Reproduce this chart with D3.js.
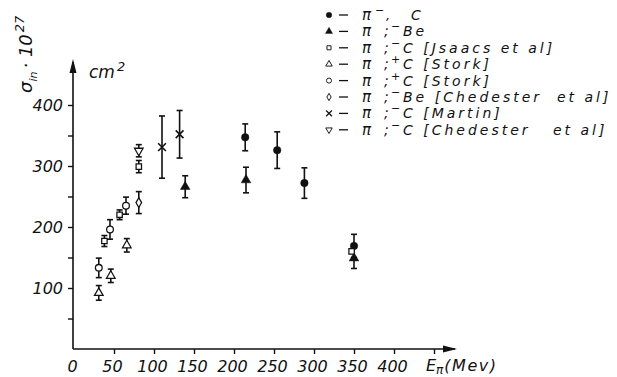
<!DOCTYPE html>
<html>
<head>
<meta charset="utf-8">
<script src="https://cdn.jsdelivr.net/npm/d3@7"></script>
<style>
  body { margin: 0; background: #fff; }
  text { font-family: "DejaVu Sans", sans-serif; font-style: italic; fill: #111; }
</style>
</head>
<body>
<svg id="chart" width="617" height="377"></svg>
<script>
// Axis ticks (pion kinetic energy in MeV, inelastic cross section in units of 1e-27 cm^2)
const xTicks = [0, 50, 100, 150, 200, 250, 300, 350, 400, 450];
const xTickLabels = ["0", "50", "100", "150", "200", "250", "300", "350", "400", ""];
const yTicks = [50, 100, 150, 200, 250, 300, 350, 400];
const yTickLabels = ["", "100", "", "200", "", "300", "", "400"];

// π⁻ on C (this work)
const piMinusC_E = [214, 254, 288, 350];
const piMinusC_sigma = [347, 326, 272, 169];
const piMinusC_err = [22, 30, 25, 19];

// π⁻ on Be (this work)
const piMinusBe_E = [139, 215, 350];
const piMinusBe_sigma = [266, 277, 149];
const piMinusBe_err = [18, 21, 17];

// π⁻ on C, Isaacs et al
const isaacs_E = [38, 57, 81, 347];
const isaacs_sigma = [177, 220, 299, 160];
const isaacs_err = [9, 8, 10, 0];

// π⁺ on C, Stork (triangles)
const storkTri_E = [31, 46, 66];
const storkTri_sigma = [92, 120, 170];
const storkTri_err = [12, 11, 11];

// π⁺ on C, Stork (circles)
const storkCirc_E = [31, 45, 65];
const storkCirc_sigma = [133, 196, 235];
const storkCirc_err = [16, 16, 14];

// π⁻ on Be, Chedester et al
const chedBe_E = [81];
const chedBe_sigma = [240];
const chedBe_err = [18];

// π⁻ on C, Martin
const martin_E = [110, 132];
const martin_sigma = [331, 352];
const martin_err = [51, 39];

// π⁻ on C, Chedester et al
const chedC_E = [81];
const chedC_sigma = [325];
const chedC_err = [10];

// Legend entries: charge sign, separator, remainder of the text
const legendSigns = ["−", "−", "−", "+", "+", "−", "−", "−"];
const legendSeps = [",", ";", ";", ";", ";", ";", ";", ";"];
const legendRest = ["C", "Be", "C [Jsaacs et al]", "C [Stork]", "C [Stork]",
                    "Be [Chedester\u00a0 et al]", "C [Martin]", "C [Chedester\u00a0\u00a0 et al]"];

const series = [
  { E: piMinusC_E, s: piMinusC_sigma, err: piMinusC_err, shape: "circle", filled: true },
  { E: piMinusBe_E, s: piMinusBe_sigma, err: piMinusBe_err, shape: "triangle", filled: true },
  { E: isaacs_E, s: isaacs_sigma, err: isaacs_err, shape: "square", filled: false },
  { E: storkTri_E, s: storkTri_sigma, err: storkTri_err, shape: "triangle", filled: false },
  { E: storkCirc_E, s: storkCirc_sigma, err: storkCirc_err, shape: "circle", filled: false },
  { E: chedBe_E, s: chedBe_sigma, err: chedBe_err, shape: "diamond", filled: false },
  { E: martin_E, s: martin_sigma, err: martin_err, shape: "times", filled: false },
  { E: chedC_E, s: chedC_sigma, err: chedC_err, shape: "invtriangle", filled: false }
];

const svg = d3.select("#chart");
const x = d3.scaleLinear().domain([0, 450]).range([74, 434]);
const y = d3.scaleLinear().domain([0, 400]).range([349, 105]);

// X axis
const xAxis = svg.append("g")
  .attr("transform", `translate(0,${y(0)})`)
  .call(d3.axisBottom(x).tickValues(xTicks).tickSize(5).tickPadding(7)
    .tickFormat((d, i) => xTickLabels[i]));
xAxis.select(".domain").remove();
xAxis.selectAll(".tick line").attr("stroke", "#111").attr("stroke-width", 1.4)
  .filter(d => d === 0).remove();
xAxis.selectAll(".tick text").attr("font-size", 16).attr("font-family", "DejaVu Sans")
  .attr("font-style", "italic").attr("fill", "#111").attr("dx", -2);

// Y axis
const yAxis = svg.append("g")
  .attr("transform", `translate(${x(0) - 1},0)`)
  .call(d3.axisLeft(y).tickValues(yTicks).tickSize(5).tickPadding(5)
    .tickFormat((d, i) => yTickLabels[i]));
yAxis.select(".domain").remove();
yAxis.selectAll(".tick line").attr("stroke", "#111").attr("stroke-width", 1.4);
yAxis.selectAll(".tick text").attr("font-size", 16).attr("font-family", "DejaVu Sans")
  .attr("font-style", "italic").attr("fill", "#111").attr("dy", "0.36em");

// Axis lines with arrow heads
svg.append("line").attr("x1", x(0) - 1).attr("y1", y(0)).attr("x2", 455).attr("y2", y(0))
  .attr("stroke", "#111").attr("stroke-width", 1.6);
svg.append("path").attr("d", "M457,349 L443,345.5 L443,352.5 Z").attr("fill", "#111");
svg.append("line").attr("x1", x(0) - 1).attr("y1", y(0)).attr("x2", x(0) - 1).attr("y2", 62)
  .attr("stroke", "#111").attr("stroke-width", 1.6);
svg.append("path").attr("d", `M${x(0) - 1},59 L${x(0) - 4.5},73 L${x(0) + 2.5},73 Z`).attr("fill", "#111");

// Unit label on the y axis
const cm = svg.append("text").attr("x", 89).attr("y", 78).attr("font-size", 17).attr("font-style", "normal");
cm.append("tspan").text("cm");
cm.append("tspan").attr("dy", -7).attr("dx", 2).attr("font-size", 13).text("2");

// Rotated y-axis title: σ_in · 10^27
const yt = svg.append("text").attr("transform", "translate(32,93) rotate(-90)").attr("font-size", 18);
yt.append("tspan").text("σ");
yt.append("tspan").attr("dy", 5).attr("font-size", 11).text("in");
yt.append("tspan").attr("dy", -5).attr("dx", 3).text("· 10");
yt.append("tspan").attr("dy", -8).attr("dx", 2).attr("font-size", 13).text("27");

// X-axis title: E_π (Mev)
const xt = svg.append("text").attr("x", 426).attr("y", 371).attr("font-size", 16);
xt.append("tspan").text("E");
xt.append("tspan").attr("dy", 3).attr("font-size", 12).text("π");
xt.append("tspan").attr("dy", -3).attr("dx", 1).attr("letter-spacing", 1.5).text("(Mev)");

// Marker paths
function markerPath(shape) {
  switch (shape) {
    case "circle": return d3.symbol(d3.symbolCircle, 44)();
    case "triangle": return d3.symbol(d3.symbolTriangle, 40)();
    case "invtriangle": return d3.symbol(d3.symbolTriangle, 40)();
    case "square": return d3.symbol(d3.symbolSquare, 36)();
    case "diamond": return d3.symbol(d3.symbolDiamond, 34)();
    case "times": return d3.symbol(d3.symbolTimes, 50)();
  }
}

function drawMarker(g, shape, filled, scale) {
  const sz = filled ? 1 : 0.9;
  const p = g.append("path").attr("d", markerPath(shape))
    .attr("transform", `scale(${(scale || 1) * sz})${shape === "invtriangle" ? " rotate(180)" : ""}`);
  if (filled) p.attr("fill", "#111").attr("stroke", "#111").attr("stroke-width", 0.5);
  else p.attr("fill", "#fff").attr("stroke", "#111").attr("stroke-width", shape === "times" ? 1.8 : 1.4);
}

// Data points with error bars
const plot = svg.append("g");
series.forEach(sr => {
  sr.E.forEach((e, i) => {
    const cx = x(e), cy = y(sr.s[i]), er = sr.err[i];
    const g = plot.append("g");
    if (er > 0) {
      const top = y(sr.s[i] + er), bot = y(sr.s[i] - er);
      g.append("line").attr("x1", cx).attr("x2", cx).attr("y1", top).attr("y2", bot)
        .attr("stroke", "#111").attr("stroke-width", 1.6);
      [top, bot].forEach(yy => g.append("line").attr("x1", cx - 3).attr("x2", cx + 3)
        .attr("y1", yy).attr("y2", yy).attr("stroke", "#111").attr("stroke-width", 1.6));
    }
    const m = g.append("g").attr("transform", `translate(${cx},${cy})`);
    drawMarker(m, sr.shape, sr.filled);
  });
});

// Legend: marker, dash, then "π", charge sign, separator and the rest of the label
const leg = svg.append("g");
series.forEach((sr, i) => {
  const ry = 15 + i * 16.4;
  const m = leg.append("g").attr("transform", `translate(329,${ry})`);
  drawMarker(m, sr.shape, sr.filled, 0.75);
  leg.append("line").attr("x1", 339).attr("x2", 348).attr("y1", ry).attr("y2", ry)
    .attr("stroke", "#111").attr("stroke-width", 1.3);
  const base = ry + 5;
  leg.append("text").attr("x", 362).attr("y", base).attr("font-size", 15).text("π");
  if (i === 0) {
    leg.append("text").attr("x", 375).attr("y", base - 6).attr("font-size", 11).text(legendSigns[i]);
    leg.append("text").attr("x", 386).attr("y", base).attr("font-size", 13).text(legendSeps[i]);
    leg.append("text").attr("x", 411).attr("y", base).attr("font-size", 14)
      .attr("letter-spacing", 3).text(legendRest[i]);
  } else {
    leg.append("text").attr("x", 384).attr("y", base).attr("font-size", 14).text(legendSeps[i]);
    leg.append("text").attr("x", 391).attr("y", base - 6).attr("font-size", 11).text(legendSigns[i]);
    leg.append("text").attr("x", 403).attr("y", base).attr("font-size", 14)
      .attr("letter-spacing", 3).text(legendRest[i]);
  }
});
</script>
</body>
</html>
